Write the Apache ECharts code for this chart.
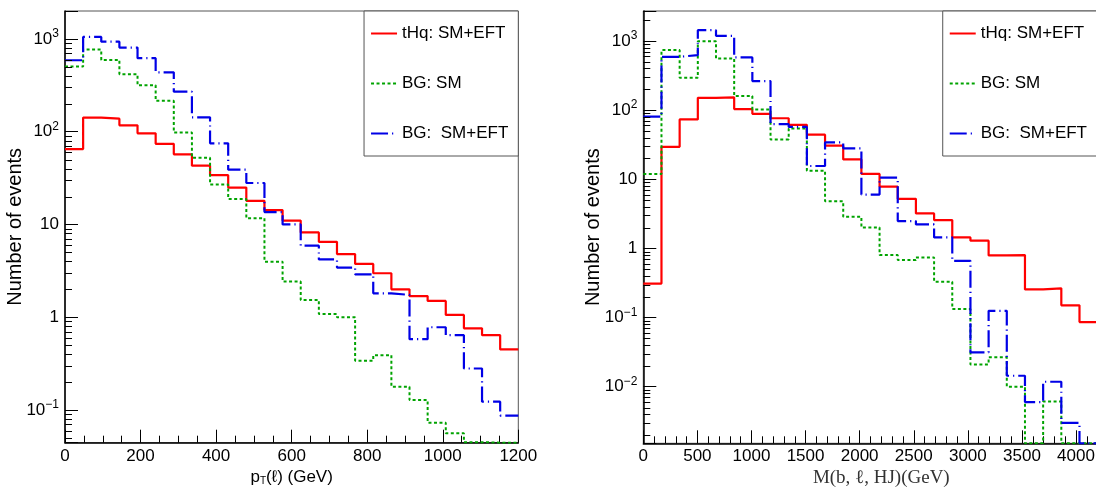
<!DOCTYPE html>
<html><head><meta charset="utf-8">
<script src="https://cdn.jsdelivr.net/npm/echarts@6/dist/echarts.min.js"></script>
<style>html,body{margin:0;padding:0;background:#fff}#c{width:1096px;height:489px}</style>
</head><body><div id="c"></div>
<script>
// ---- bin edges ----
const ptEdges = [0,48,96,144,192,240,288,336,384,432,480,528,576,624,672,720,768,816,864,912,960,1008,1056,1104,1152,1200];
const massEdges = [0,168,336,504,672,840,1008,1176,1344,1512,1680,1848,2016,2184,2352,2520,2688,2856,3024,3192,3360,3528,3696,3864,4032,4200];

// ---- left panel: pT(l) ----
const ptTHq   = [65,142,138,117,96,74,57,43,34,25,18,14.3,11.0,8.2,6.5,4.8,3.75,2.98,2.0,1.69,1.50,1.06,0.76,0.64,0.45];
const ptBG    = [504,767,594,416,317,215,98,52.5,27,18.8,11.7,3.97,2.42,1.53,1.08,1.0,0.34,0.39,0.178,0.128,0.073,0.056,0.045,0,0];
const ptBGEFT = [589,1050,935,806,620,437,270,143,75,39,28,13.6,10.0,5.9,4.2,3.43,2.9,1.81,1.74,0.58,0.78,0.64,0.28,0.123,0.087];

// ---- right panel: M(b,l,HJ) ----
const massTHq   = [0.31,29.4,73,150,152,103,88,76,61,44,30.5,19.3,11.9,7.8,5.2,3.2,2.56,1.44,1.29,0.79,0.80,0.255,0.264,0.15,0.086];
const massBG    = [11.9,735,292,990,556,160,102,37.6,54,13.2,4.8,2.86,2.0,0.80,0.68,0.74,0.33,0.133,0.021,0.0266,0.010,0,0.0061,0,0];
const massBGEFT = [80,588,621,1428,1181,575,262,62.5,57,15.5,34,27.9,6.0,10.5,2.48,2.22,1.44,0.66,0.0314,0.125,0.0144,0.006,0.0118,0.003,0];

// ---- axis ranges ----
const ptRange = [0, 1200], massRange = [0, 4400];
const ptYRange = [0.0444, 2000], massYRange = [0.00152, 2700];
const seriesNames = ['tHq: SM+EFT', 'BG: SM', 'BG:  SM+EFT'];

const FONT = 'Liberation Sans, Arial, Helvetica, sans-serif';
const RED = '#ff0000', GREEN = '#00a300', BLUE = '#0000e6';
const BLUE_DASH = [17, 4, 1.2, 4], GREEN_DOT = [3, 2.5];

function toSteps(edges, vals, floor) {
  const pts = [];
  for (let i = 0; i < vals.length; i++) {
    const v = vals[i] > 0 ? vals[i] : floor; // empty bins drawn at the axis floor, like ROOT
    pts.push([edges[i], v]);
    pts.push([edges[i + 1], v]);
  }
  return pts;
}
function logLabel(v) {
  const e = Math.log10(v), r = Math.round(e);
  if (Math.abs(e - r) > 1e-6) return '';
  if (r === 0) return '1';
  if (r === 1) return '10';
  return '10{sup|' + (r < 0 ? '\u2212' + (-r) : r) + '}';
}
function minorLogValues(range) {
  const out = [];
  for (let n = Math.floor(Math.log10(range[0])); n <= Math.ceil(Math.log10(range[1])); n++) {
    for (let k = 2; k <= 9; k++) {
      const v = k * Math.pow(10, n);
      if (v >= range[0] && v <= range[1]) out.push(v);
    }
  }
  return out;
}
function minorTickSeries(idx, xStart, range) {
  return {
    type: 'custom', xAxisIndex: idx, yAxisIndex: idx, silent: true, clip: false, z: 5,
    data: minorLogValues(range).map(v => [xStart, v]),
    renderItem: (params, api) => {
      const p = api.coord([api.value(0), api.value(1)]);
      const y = Math.round(p[1]) + 0.5;
      return { type: 'line', shape: { x1: p[0], y1: y, x2: p[0] + 7, y2: y }, style: { stroke: '#000', lineWidth: 1 } };
    }
  };
}
function histSeries(idx, name, edges, vals, floor, color, type, width) {
  return {
    type: 'line', name: name, xAxisIndex: idx, yAxisIndex: idx,
    data: toSteps(edges, vals, floor), showSymbol: false, symbol: 'none',
    lineStyle: { color: color, width: width, type: type }, itemStyle: { color: color },
    animation: false, z: 3
  };
}
function xAxisCfg(idx, range, interval, minorSplit, name, nameStyle) {
  return {
    type: 'value', gridIndex: idx, min: range[0], max: range[1], interval: interval,
    axisLine: { show: true, onZero: false, lineStyle: { color: '#000', width: 1.5 } },
    axisTick: { show: true, inside: true, length: 13, lineStyle: { color: '#000', width: 1 } },
    minorTick: { show: true, splitNumber: minorSplit, length: 7, lineStyle: { color: '#000', width: 1 } },
    splitLine: { show: false },
    axisLabel: { fontSize: 17, color: '#000', fontFamily: FONT, margin: 5, showMaxLabel: idx === 0,
                 formatter: v => String(v) },
    name: name, nameLocation: 'middle', nameGap: 25, nameMoveOverlap: false, nameTextStyle: nameStyle
  };
}
function yAxisCfg(idx, range) {
  return {
    type: 'log', logBase: 10, gridIndex: idx, min: range[0], max: range[1],
    axisLine: { show: true, lineStyle: { color: '#000', width: 1.5 } },
    axisTick: { show: true, inside: true, length: 13, lineStyle: { color: '#000', width: 1 } },
    splitLine: { show: false },
    axisLabel: {
      fontSize: 17, color: '#000', fontFamily: FONT, margin: 6, formatter: logLabel,
      rich: { sup: { fontSize: 12, color: '#000', fontFamily: FONT, padding: [0, 0, 10, 0] } }
    },
    name: 'Number of events', nameLocation: 'middle', nameGap: 40, nameMoveOverlap: false,
    nameTextStyle: { fontSize: 20, color: '#000', fontFamily: FONT }
  };
}
function legendCfg(right) {
  return {
    right: right, top: 11, orient: 'vertical', data: seriesNames,
    backgroundColor: '#fff', borderColor: '#555', borderWidth: 1, borderRadius: 0,
    padding: [14, 10, 14, 6], itemGap: 33, itemWidth: 26, itemHeight: 14,
    itemStyle: { color: 'rgba(0,0,0,0)', borderColor: 'rgba(0,0,0,0)', borderWidth: 0 },
    textStyle: { fontSize: 17, color: '#000', fontFamily: FONT },
    selectedMode: false
  };
}

const chart = echarts.init(document.getElementById('c'), null, { renderer: 'canvas' });
chart.setOption({
  animation: false,
  backgroundColor: '#fff',
  grid: [
    { left: 65, width: 453.3, top: 11, bottom: 46.3, show: true, borderColor: '#555', borderWidth: 1,
      containLabel: false, outerBoundsMode: 'none' },
    { left: 643.3, width: 476, top: 11, bottom: 45.7, show: true, borderColor: '#555', borderWidth: 1,
      containLabel: false, outerBoundsMode: 'none' }
  ],
  xAxis: [
    xAxisCfg(0, ptRange, 200, 4, 'p{sub|T}(\u2113) (GeV)', {
      fontSize: 17, color: '#000', fontFamily: FONT,
      rich: { sub: { fontSize: 10, color: '#000', fontFamily: FONT, padding: [9, 0, 0, 0] } }
    }),
    xAxisCfg(1, massRange, 500, 5, 'M(b, \u2113, HJ)(GeV)', {
      fontSize: 19, color: '#333', fontFamily: 'Liberation Serif, DejaVu Serif, serif'
    })
  ],
  yAxis: [yAxisCfg(0, ptYRange), yAxisCfg(1, massYRange)],
  legend: [legendCfg(577.7), legendCfg(-1)],
  series: [
    histSeries(0, seriesNames[0], ptEdges, ptTHq, ptYRange[0], RED, 'solid', 2.2),
    histSeries(0, seriesNames[1], ptEdges, ptBG, ptYRange[0], GREEN, GREEN_DOT, 2),
    histSeries(0, seriesNames[2], ptEdges, ptBGEFT, ptYRange[0], BLUE, BLUE_DASH, 2.2),
    histSeries(1, seriesNames[0], massEdges, massTHq, massYRange[0], RED, 'solid', 2.2),
    histSeries(1, seriesNames[1], massEdges, massBG, massYRange[0], GREEN, GREEN_DOT, 2),
    histSeries(1, seriesNames[2], massEdges, massBGEFT, massYRange[0], BLUE, BLUE_DASH, 2.2),
    minorTickSeries(0, ptRange[0], ptYRange),
    minorTickSeries(1, massRange[0], massYRange)
  ]
});
</script></body></html>
